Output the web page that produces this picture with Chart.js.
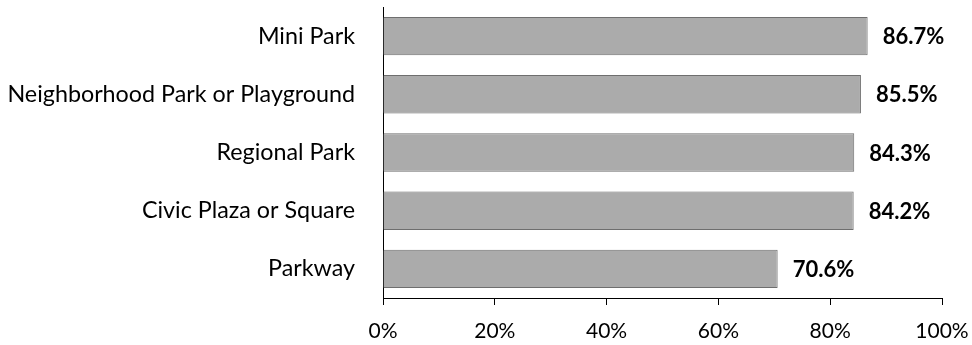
<!DOCTYPE html>
<html>
<head>
<meta charset="utf-8">
<script src="https://cdn.jsdelivr.net/npm/chart.js@4"></script>
<style>
  html, body { margin: 0; padding: 0; background: #fff; }
  #wrap { width: 972px; height: 345px; position: relative; }
</style>
</head>
<body>
<div id="wrap"><canvas id="parkChart"></canvas></div>
<script>
const parkTypes = ['Mini Park', 'Neighborhood Park or Playground', 'Regional Park', 'Civic Plaza or Square', 'Parkway'];
const shares = [86.7, 85.5, 84.3, 84.2, 70.6];
const tickValues = [0, 20, 40, 60, 80, 100];

const FONT = "Lato, 'Open Sans', sans-serif";

// Etiquetas de valor en negrita a la derecha de cada barra
const valueLabels = {
    id: 'valueLabels',
    afterDatasetsDraw(chart) {
        const ctx = chart.ctx;
        const meta = chart.getDatasetMeta(0);
        ctx.save();
        ctx.font = 'bold 22px ' + FONT;
        ctx.fillStyle = '#000';
        ctx.textBaseline = 'middle';
        ctx.textAlign = 'left';
        meta.data.forEach((bar, i) => {
            ctx.fillText(shares[i].toFixed(1) + '%', bar.x + 15, bar.y + 1);
        });
        ctx.restore();
    }
};

new Chart(document.getElementById('parkChart'), {
    type: 'bar',
    data: {
        labels: parkTypes,
        datasets: [{
            data: shares,
            backgroundColor: '#ababab',
            borderColor: '#6e6e6e',
            borderWidth: 1,
            categoryPercentage: 0.66,
            barPercentage: 1
        }]
    },
    options: {
        indexAxis: 'y',
        responsive: true,
        maintainAspectRatio: false,
        animation: false,
        layout: { padding: { top: 7, right: 30, left: 0, bottom: 0 } },
        plugins: {
            legend: { display: false },
            tooltip: { enabled: false }
        },
        scales: {
            x: {
                min: 0,
                max: 100,
                afterBuildTicks: (scale) => {
                    scale.ticks = tickValues.map(v => ({ value: v }));
                },
                afterFit: (scale) => {
                    scale.height = 47;
                    scale.paddingLeft = 0;
                    scale.paddingRight = 0;
                },
                grid: { display: true, drawOnChartArea: false, drawTicks: true, tickLength: 7, color: '#000' },
                border: { display: true, color: '#000', width: 1 },
                ticks: {
                    color: '#000',
                    font: { family: FONT, size: 21 },
                    padding: 14,
                    maxRotation: 0,
                    callback: (v) => v + '%'
                }
            },
            y: {
                afterFit: (scale) => {
                    // ancho fijo para el eje de categorías y sin relleno extra arriba/abajo
                    scale.width = 383;
                    scale.paddingTop = 0;
                    scale.paddingBottom = 0;
                },
                grid: { display: false },
                border: { display: true, color: '#000', width: 1 },
                ticks: {
                    color: '#000',
                    font: { family: FONT, size: 23.3 },
                    padding: 20
                }
            }
        }
    },
    plugins: [valueLabels]
});
</script>
</body>
</html>
